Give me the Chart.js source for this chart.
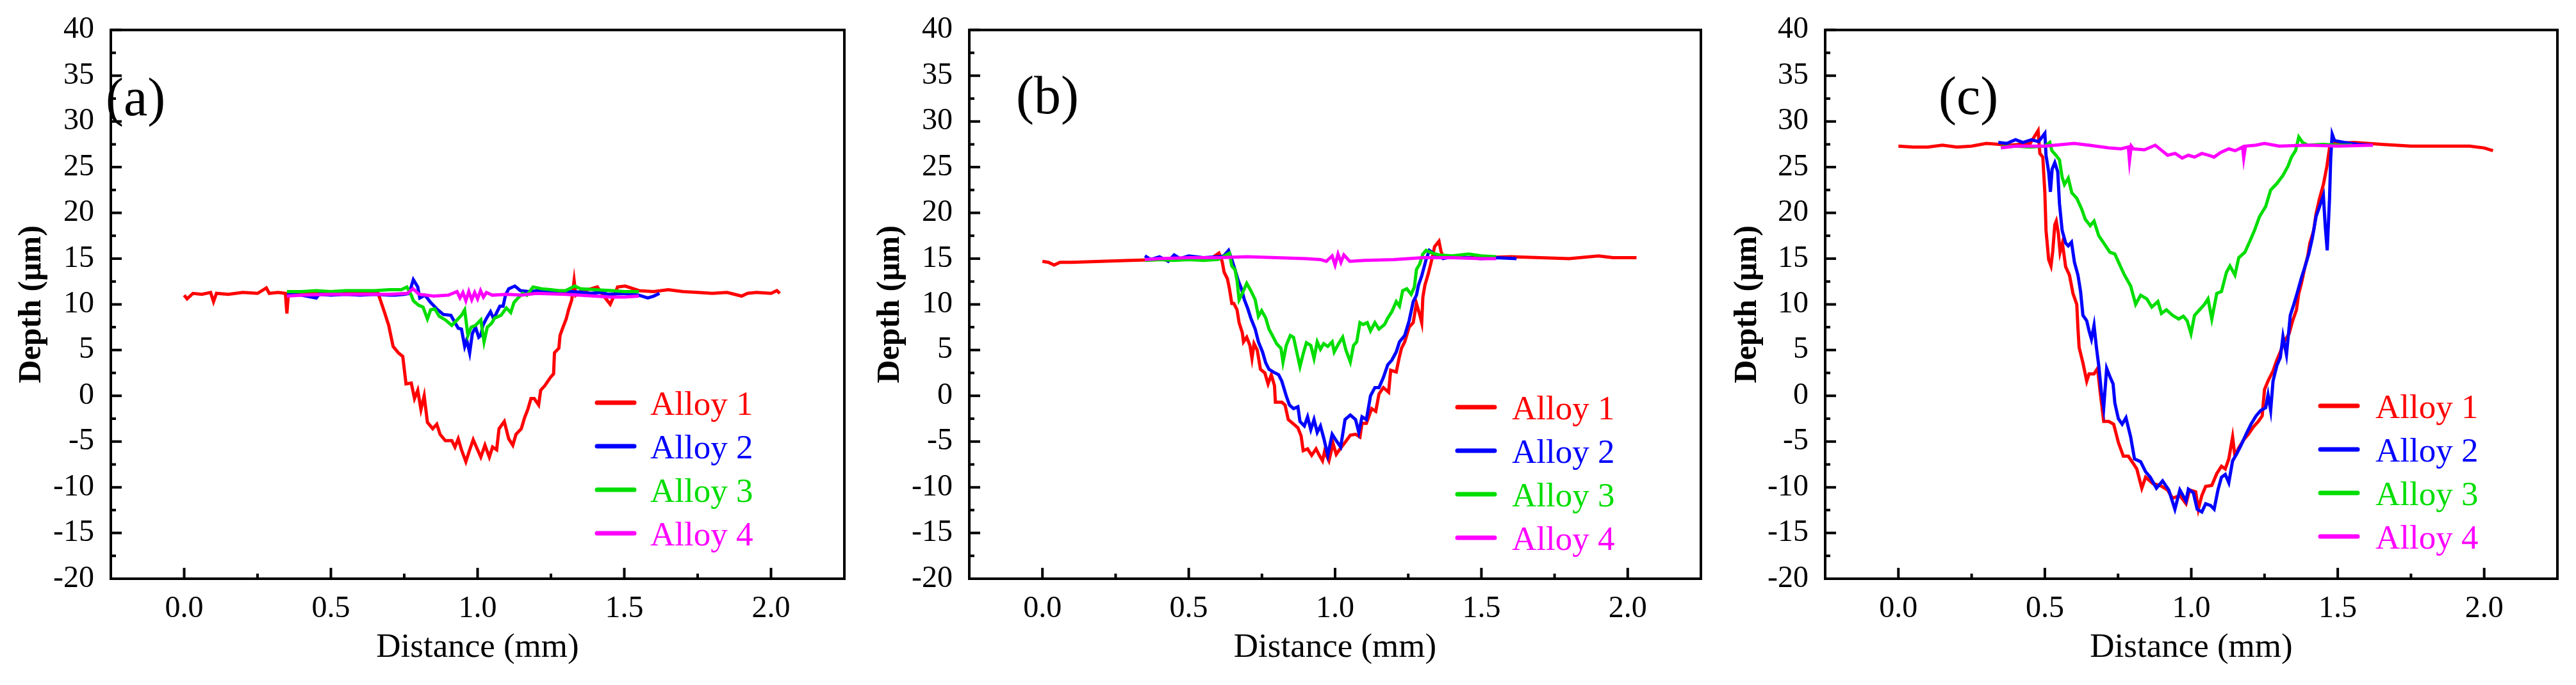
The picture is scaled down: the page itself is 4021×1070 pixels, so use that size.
<!DOCTYPE html>
<html>
<head>
<meta charset="utf-8">
<script src="https://cdn.jsdelivr.net/npm/chart.js@4.4.0/dist/chart.umd.min.js"></script>
<style>
  html, body { margin: 0; padding: 0; background: #fff; }
  #wrap { display: flex; width: 4021px; height: 1070px; }
  canvas { display: block; }
</style>
</head>
<body>
<div id="wrap">
  <canvas id="panel-a" width="1340" height="1070"></canvas>
  <canvas id="panel-b" width="1340" height="1070"></canvas>
  <canvas id="panel-c" width="1341" height="1070"></canvas>
</div>
<script>
/* Series names, colours and axis ticks */
const alloyNames = ['Alloy 1', 'Alloy 2', 'Alloy 3', 'Alloy 4'];
const alloyColors = ['#ff0000', '#0000ff', '#00dd00', '#ff00ff'];
const xTickValues = [0.0, 0.5, 1.0, 1.5, 2.0];
const yTickValues = [-20, -15, -10, -5, 0, 5, 10, 15, 20, 25, 30, 35, 40];

/* Panel (a) */
const aDist1 = [0.00, 0.01, 0.03, 0.06, 0.09, 0.10, 0.11, 0.15, 0.20, 0.25,
  0.28, 0.29, 0.32, 0.345, 0.35, 0.355, 0.40, 0.45, 0.50, 0.55,
  0.60, 0.64, 0.661, 0.683, 0.697, 0.712, 0.730, 0.745, 0.756, 0.774,
  0.785, 0.796, 0.807, 0.818, 0.829, 0.847, 0.861, 0.872, 0.890, 0.912,
  0.923, 0.934, 0.945, 0.960, 0.971, 0.985, 1.000, 1.011, 1.025, 1.040,
  1.051, 1.065, 1.073, 1.091, 1.106, 1.120, 1.131, 1.149, 1.160, 1.171,
  1.182, 1.193, 1.208, 1.215, 1.229, 1.248, 1.259, 1.262, 1.277, 1.281,
  1.291, 1.302, 1.310, 1.321, 1.329, 1.335, 1.350, 1.386, 1.408, 1.423,
  1.452, 1.466, 1.477, 1.503, 1.55, 1.60, 1.65, 1.70, 1.75, 1.80,
  1.85, 1.90, 1.92, 1.95, 2.00, 2.02, 2.03];
const aDepth1 = [11.0, 10.6, 11.2, 11.1, 11.3, 10.3, 11.2, 11.1, 11.3, 11.2,
  11.8, 11.2, 11.3, 11.2, 9.0, 11.1, 11.2, 11.3, 11.2, 11.3,
  11.3, 11.2, 11.2, 9.1, 7.7, 5.4, 4.7, 4.3, 1.3, 1.4,
  -0.3, 0.6, -1.5, 0.0, -2.9, -3.6, -3.1, -4.2, -4.9, -4.9,
  -5.6, -4.7, -5.9, -7.2, -6.1, -4.8, -5.9, -6.7, -5.4, -6.7,
  -5.6, -5.9, -3.6, -2.8, -4.7, -5.4, -4.2, -3.6, -2.4, -1.5,
  -0.3, -0.3, -1.0, 0.6, 1.1, 2.0, 2.4, 4.7, 5.2, 6.6,
  7.5, 8.4, 9.4, 10.5, 12.6, 11.0, 11.4, 11.7, 11.9, 11.2,
  10.0, 11.0, 11.9, 12.0, 11.5, 11.4, 11.6, 11.4, 11.3, 11.2,
  11.3, 10.9, 11.2, 11.3, 11.2, 11.5, 11.2];

const aDist2 = [0.35, 0.40, 0.45, 0.46, 0.50, 0.55, 0.60, 0.65, 0.70, 0.72,
  0.75, 0.767, 0.781, 0.796, 0.803, 0.821, 0.840, 0.861, 0.883, 0.909,
  0.923, 0.934, 0.945, 0.956, 0.963, 0.973, 0.982, 0.993, 1.004, 1.011,
  1.018, 1.029, 1.044, 1.055, 1.065, 1.076, 1.087, 1.095, 1.106, 1.127,
  1.146, 1.175, 1.21, 1.24, 1.28, 1.321, 1.36, 1.386, 1.42, 1.445,
  1.50, 1.55, 1.58, 1.60, 1.62];
const aDepth2 = [11.1, 11.0, 10.7, 11.1, 11.0, 11.1, 11.0, 11.1, 11.0, 11.0,
  11.1, 11.2, 12.7, 11.9, 10.7, 11.0, 10.2, 9.5, 8.9, 8.8,
  8.0, 7.4, 7.3, 5.4, 6.1, 4.7, 6.8, 7.5, 6.4, 6.6,
  7.7, 8.4, 9.2, 8.4, 9.1, 9.8, 9.8, 11.0, 11.7, 12.0,
  11.5, 11.4, 11.5, 11.4, 11.3, 11.4, 11.3, 11.2, 11.3, 11.1,
  11.2, 11.0, 10.7, 10.9, 11.2];

const aDist3 = [0.35, 0.40, 0.45, 0.50, 0.55, 0.60, 0.65, 0.70, 0.74, 0.759,
  0.774, 0.781, 0.799, 0.814, 0.829, 0.840, 0.854, 0.869, 0.890, 0.912,
  0.930, 0.945, 0.956, 0.967, 0.978, 0.993, 1.011, 1.022, 1.033, 1.047,
  1.058, 1.080, 1.098, 1.113, 1.124, 1.138, 1.153, 1.168, 1.189, 1.219,
  1.25, 1.277, 1.30, 1.331, 1.350, 1.40, 1.459, 1.50, 1.55];
const aDepth3 = [11.4, 11.4, 11.5, 11.4, 11.5, 11.5, 11.5, 11.6, 11.6, 11.9,
  11.0, 10.4, 9.9, 9.7, 8.4, 9.4, 9.5, 8.7, 8.3, 7.7,
  8.3, 8.8, 9.4, 6.6, 7.5, 7.7, 8.3, 5.9, 7.5, 7.9,
  8.5, 8.8, 9.6, 9.1, 10.2, 10.7, 11.2, 11.0, 11.9, 11.7,
  11.6, 11.5, 11.5, 12.0, 11.7, 11.6, 11.5, 11.4, 11.4];

const aDist4 = [0.35, 0.40, 0.50, 0.60, 0.70, 0.76, 0.78, 0.80, 0.85, 0.90,
  0.93, 0.94, 0.95, 0.96, 0.97, 0.98, 0.99, 1.00, 1.01, 1.02,
  1.03, 1.05, 1.10, 1.15, 1.20, 1.30, 1.40, 1.45, 1.50, 1.55];
const aDepth4 = [10.9, 11.0, 11.1, 11.1, 11.1, 11.2, 11.7, 11.1, 10.9, 11.0,
  11.4, 10.7, 11.3, 10.4, 11.4, 10.5, 11.3, 10.6, 11.5, 10.8,
  11.3, 11.0, 11.1, 11.0, 11.2, 11.1, 10.9, 10.8, 10.8, 10.9];

/* Panel (b) */
const bDist1 = [0.00, 0.02, 0.04, 0.06, 0.10, 0.20, 0.30, 0.40, 0.50, 0.58,
  0.603, 0.614, 0.621, 0.632, 0.639, 0.647, 0.654, 0.665, 0.672, 0.683,
  0.687, 0.698, 0.709, 0.716, 0.723, 0.734, 0.745, 0.760, 0.771, 0.782,
  0.793, 0.796, 0.818, 0.829, 0.840, 0.855, 0.873, 0.884, 0.891, 0.906,
  0.920, 0.935, 0.946, 0.957, 0.964, 0.979, 0.993, 1.004, 1.015, 1.034,
  1.052, 1.070, 1.085, 1.092, 1.107, 1.125, 1.139, 1.150, 1.165, 1.183,
  1.190, 1.209, 1.220, 1.227, 1.238, 1.253, 1.267, 1.278, 1.289, 1.296,
  1.300, 1.307, 1.318, 1.329, 1.340, 1.355, 1.362, 1.369, 1.40, 1.50,
  1.60, 1.70, 1.80, 1.90, 1.95, 2.03];
const bDepth1 = [14.7, 14.6, 14.3, 14.6, 14.6, 14.7, 14.8, 14.9, 15.0, 15.1,
  15.6, 14.7, 13.5, 12.8, 11.7, 10.1, 10.1, 9.4, 8.0, 6.9,
  5.9, 6.4, 5.5, 4.1, 5.7, 5.0, 2.9, 2.5, 1.3, 2.3,
  1.1, -0.7, -0.7, -1.0, -2.6, -3.0, -3.5, -4.4, -6.0, -5.8,
  -6.5, -5.8, -6.5, -7.1, -6.1, -7.1, -5.2, -6.4, -5.9, -5.1,
  -4.3, -4.2, -4.5, -3.0, -3.0, -1.4, -1.7, 0.2, 0.9, 0.4,
  2.8, 2.6, 4.3, 5.2, 5.9, 7.5, 8.0, 10.1, 8.9, 8.0,
  10.8, 12.1, 13.3, 14.7, 16.3, 16.9, 15.8, 15.2, 15.1, 15.1,
  15.2, 15.1, 15.0, 15.3, 15.1, 15.1];

const bDist2 = [0.35, 0.37, 0.40, 0.43, 0.45, 0.47, 0.50, 0.55, 0.60, 0.62,
  0.636, 0.647, 0.658, 0.669, 0.680, 0.690, 0.701, 0.712, 0.727, 0.738,
  0.752, 0.763, 0.774, 0.789, 0.807, 0.818, 0.833, 0.844, 0.858, 0.873,
  0.880, 0.895, 0.906, 0.917, 0.928, 0.939, 0.950, 0.961, 0.975, 0.990,
  1.004, 1.019, 1.034, 1.052, 1.070, 1.081, 1.092, 1.107, 1.121, 1.136,
  1.150, 1.165, 1.180, 1.194, 1.209, 1.220, 1.238, 1.253, 1.267, 1.278,
  1.285, 1.296, 1.311, 1.322, 1.340, 1.369, 1.40, 1.45, 1.50, 1.55,
  1.62];
const bDepth2 = [15.3, 14.9, 15.2, 14.7, 15.4, 15.0, 15.3, 15.1, 15.2, 15.3,
  15.9, 14.9, 13.8, 12.6, 11.7, 10.5, 9.6, 8.5, 7.3, 5.9,
  4.8, 3.6, 2.9, 2.6, 2.3, 1.6, 0.0, -1.0, -1.4, -1.2,
  -2.8, -3.3, -2.3, -3.7, -2.6, -4.0, -3.3, -4.6, -6.5, -4.2,
  -4.9, -5.6, -2.6, -2.1, -2.6, -4.0, -2.3, -2.6, 0.0, 0.9,
  0.9, 2.0, 3.4, 3.9, 4.8, 5.9, 6.6, 8.2, 10.3, 11.0,
  12.1, 13.1, 14.9, 15.9, 15.5, 15.0, 15.2, 15.1, 15.0, 15.1,
  15.0];

const bDist3 = [0.35, 0.40, 0.45, 0.50, 0.55, 0.60, 0.639, 0.647, 0.658, 0.665,
  0.672, 0.683, 0.698, 0.712, 0.727, 0.738, 0.749, 0.763, 0.774, 0.789,
  0.800, 0.815, 0.822, 0.833, 0.847, 0.858, 0.869, 0.880, 0.891, 0.902,
  0.917, 0.928, 0.939, 0.950, 0.961, 0.975, 0.990, 0.997, 1.012, 1.026,
  1.037, 1.052, 1.063, 1.074, 1.085, 1.096, 1.110, 1.121, 1.136, 1.150,
  1.169, 1.180, 1.194, 1.209, 1.220, 1.231, 1.245, 1.260, 1.271, 1.278,
  1.289, 1.300, 1.311, 1.333, 1.355, 1.40, 1.457, 1.50, 1.55];
const bDepth3 = [14.8, 14.9, 14.8, 14.9, 14.8, 14.9, 15.6, 14.2, 13.8, 12.6,
  10.5, 11.2, 12.3, 11.5, 10.5, 8.7, 9.3, 8.5, 7.3, 6.4,
  5.7, 5.2, 3.7, 5.5, 6.6, 6.4, 4.8, 3.2, 4.6, 5.8,
  5.5, 4.1, 5.9, 5.1, 5.7, 5.4, 5.9, 4.8, 5.7, 6.4,
  5.0, 3.7, 5.5, 5.9, 8.0, 7.8, 8.0, 7.1, 8.0, 7.3,
  7.8, 8.5, 9.2, 10.3, 9.8, 11.5, 11.7, 11.1, 11.9, 13.8,
  14.4, 15.5, 15.9, 15.6, 15.4, 15.3, 15.5, 15.3, 15.2];

const bDist4 = [0.35, 0.40, 0.50, 0.60, 0.70, 0.80, 0.90, 0.95, 0.97, 0.99,
  1.00, 1.01, 1.02, 1.03, 1.05, 1.10, 1.20, 1.30, 1.40, 1.50, 1.55];
const bDepth4 = [14.9, 15.0, 15.1, 15.1, 15.2, 15.1, 15.0, 14.9, 14.7, 15.3,
  14.3, 15.5, 14.6, 15.4, 14.7, 14.8, 14.9, 15.1, 15.1, 15.0, 15.0];

/* Panel (c) */
const cDist1 = [0.00, 0.05, 0.10, 0.15, 0.20, 0.25, 0.30, 0.383, 0.450, 0.477,
  0.483, 0.493, 0.500, 0.504, 0.513, 0.521, 0.527, 0.534, 0.539, 0.546,
  0.552, 0.560, 0.571, 0.584, 0.596, 0.609, 0.613, 0.617, 0.630, 0.643,
  0.651, 0.668, 0.680, 0.689, 0.701, 0.718, 0.735, 0.751, 0.768, 0.785,
  0.802, 0.814, 0.831, 0.844, 0.869, 0.894, 0.919, 0.936, 0.961, 0.982,
  0.994, 1.015, 1.024, 1.036, 1.049, 1.070, 1.087, 1.103, 1.116, 1.128,
  1.141, 1.149, 1.162, 1.179, 1.195, 1.212, 1.229, 1.242, 1.250, 1.263,
  1.279, 1.292, 1.304, 1.317, 1.334, 1.346, 1.359, 1.367, 1.376, 1.388,
  1.397, 1.405, 1.418, 1.426, 1.438, 1.451, 1.463, 1.472, 1.489, 1.556,
  1.65, 1.75, 1.85, 1.95, 2.00, 2.03];
const cDepth1 = [27.3, 27.2, 27.2, 27.4, 27.2, 27.3, 27.6, 27.4, 27.6, 29.0,
  26.5, 26.1, 22.2, 18.1, 14.9, 14.2, 15.8, 18.7, 19.1, 17.8,
  15.7, 16.7, 14.1, 13.2, 11.2, 10.0, 7.4, 5.3, 3.6, 1.6,
  2.4, 2.4, 3.0, 0.4, -2.8, -2.8, -3.1, -5.1, -6.6, -6.6,
  -7.4, -8.0, -10.1, -8.9, -9.6, -9.8, -10.3, -11.2, -10.9, -11.8,
  -10.3, -10.5, -12.4, -10.9, -9.9, -9.8, -8.5, -7.7, -8.0, -6.9,
  -4.5, -6.6, -5.7, -4.8, -4.2, -3.4, -2.8, -2.2, 0.7, 1.7,
  2.7, 3.9, 4.8, 5.9, 6.8, 8.2, 9.4, 11.2, 12.3, 14.1,
  15.2, 16.7, 18.1, 19.9, 21.6, 23.1, 25.1, 27.1, 27.6, 27.7,
  27.5, 27.3, 27.3, 27.3, 27.1, 26.8];

const cDist2 = [0.341, 0.37, 0.40, 0.425, 0.454, 0.479, 0.500, 0.504, 0.513, 0.519,
  0.525, 0.534, 0.544, 0.550, 0.559, 0.571, 0.580, 0.591, 0.601, 0.613,
  0.622, 0.630, 0.643, 0.651, 0.659, 0.668, 0.676, 0.684, 0.693, 0.701,
  0.711, 0.722, 0.733, 0.739, 0.751, 0.764, 0.777, 0.793, 0.806, 0.827,
  0.844, 0.860, 0.881, 0.902, 0.923, 0.944, 0.961, 0.982, 0.990, 1.007,
  1.020, 1.036, 1.049, 1.066, 1.078, 1.091, 1.103, 1.116, 1.128, 1.141,
  1.154, 1.170, 1.187, 1.204, 1.221, 1.237, 1.254, 1.262, 1.271, 1.279,
  1.292, 1.304, 1.313, 1.325, 1.338, 1.350, 1.363, 1.376, 1.388, 1.401,
  1.413, 1.426, 1.438, 1.451, 1.457, 1.464, 1.472, 1.476, 1.481, 1.489,
  1.522, 1.57, 1.62];
const cDepth2 = [27.7, 27.6, 28.0, 27.7, 28.0, 27.8, 28.7, 26.3, 24.5, 22.3,
  24.8, 25.5, 24.5, 21.0, 18.1, 16.7, 16.4, 16.8, 14.6, 13.2,
  11.4, 8.8, 8.2, 7.1, 6.2, 7.7, 5.3, 3.3, 0.4, -1.3,
  3.0, 2.1, 1.3, -0.8, -2.5, -3.1, -2.4, -4.5, -6.9, -7.2,
  -8.3, -8.9, -10.1, -9.3, -10.3, -12.4, -10.3, -11.5, -10.2, -10.6,
  -12.4, -12.7, -11.8, -12.0, -12.4, -10.3, -8.9, -8.6, -9.5, -7.1,
  -6.4, -5.4, -4.2, -3.1, -2.2, -1.6, -1.3, 0.1, -1.6, 1.6,
  3.3, 4.2, 6.5, 4.5, 8.8, 10.0, 11.4, 12.9, 14.1, 15.5,
  17.2, 19.6, 20.7, 21.9, 18.7, 15.9, 21.6, 26.0, 28.6, 27.9,
  27.7, 27.5, 27.4];

const cDist3 = [0.35, 0.40, 0.45, 0.50, 0.517, 0.524, 0.538, 0.550, 0.559, 0.567,
  0.580, 0.592, 0.609, 0.626, 0.638, 0.655, 0.668, 0.684, 0.701, 0.722,
  0.739, 0.756, 0.772, 0.793, 0.810, 0.827, 0.848, 0.865, 0.886, 0.898,
  0.915, 0.936, 0.957, 0.973, 0.986, 0.999, 1.011, 1.028, 1.045, 1.057,
  1.070, 1.087, 1.103, 1.120, 1.132, 1.149, 1.162, 1.183, 1.200, 1.216,
  1.233, 1.254, 1.271, 1.292, 1.313, 1.330, 1.342, 1.356, 1.367, 1.380,
  1.397, 1.45, 1.50, 1.55];
const cDepth3 = [27.2, 27.3, 27.2, 27.3, 27.7, 26.8, 26.3, 25.8, 23.9, 23.1,
  23.8, 22.2, 21.6, 20.4, 19.3, 18.6, 19.1, 17.5, 16.7, 15.7,
  15.5, 14.3, 13.2, 12.0, 10.0, 11.0, 10.6, 9.7, 10.3, 9.0,
  9.4, 8.8, 8.4, 8.7, 8.2, 6.8, 8.8, 9.4, 10.0, 10.6,
  8.4, 11.2, 11.4, 13.5, 14.2, 13.2, 15.1, 15.7, 16.9, 18.1,
  19.6, 20.7, 22.5, 23.2, 24.1, 25.1, 26.1, 26.8, 28.3, 27.7,
  27.4, 27.5, 27.4, 27.4];

const cDist4 = [0.35, 0.40, 0.50, 0.60, 0.65, 0.718, 0.76, 0.785, 0.789, 0.795,
  0.802, 0.84, 0.877, 0.90, 0.919, 0.945, 0.969, 0.99, 1.011, 1.036,
  1.06, 1.078, 1.10, 1.128, 1.15, 1.175, 1.179, 1.185, 1.221, 1.25,
  1.30, 1.40, 1.50, 1.62];
const cDepth4 = [27.1, 27.3, 27.3, 27.6, 27.4, 27.1, 27.0, 27.2, 25.7, 27.3,
  27.0, 26.9, 27.4, 26.8, 26.3, 26.5, 26.0, 26.3, 26.1, 26.5,
  26.3, 26.1, 26.6, 27.0, 26.8, 27.2, 26.0, 27.3, 27.4, 27.6,
  27.3, 27.4, 27.3, 27.4];

Chart.defaults.font.family = "'Liberation Serif', 'Times New Roman', serif";
Chart.defaults.color = '#000';

const PLOT_TOP = 40;
const PLOT_BOTTOM = 904;
const CANVAS_BOTTOM = 1044;

/**
 * @description frame, inward ticks, legend and panel letter
 */
const decorPlugin = {
  id: 'decor',
  afterDraw(chart, args, opts) {
    const ctx = chart.ctx;
    const a = chart.chartArea;
    const xs = chart.scales.x, ys = chart.scales.y;
    ctx.save();
    ctx.strokeStyle = '#000';
    ctx.lineWidth = 4;
    ctx.lineCap = 'butt';
    ctx.strokeRect(a.left, a.top, a.right - a.left, a.bottom - a.top);

    // major + minor ticks pointing inside
    ctx.beginPath();
    for (let i = 0; i < yTickValues.length; i++) {
      const py = ys.getPixelForValue(yTickValues[i]);
      ctx.moveTo(a.left, py); ctx.lineTo(a.left + 17, py);
      if (i < yTickValues.length - 1) {
        const my = ys.getPixelForValue((yTickValues[i] + yTickValues[i + 1]) / 2);
        ctx.moveTo(a.left, my); ctx.lineTo(a.left + 8, my);
      }
    }
    for (let i = 0; i < xTickValues.length; i++) {
      const px = xs.getPixelForValue(xTickValues[i]);
      ctx.moveTo(px, a.bottom); ctx.lineTo(px, a.bottom - 17);
      if (i < xTickValues.length - 1) {
        const mx = xs.getPixelForValue((xTickValues[i] + xTickValues[i + 1]) / 2);
        ctx.moveTo(mx, a.bottom); ctx.lineTo(mx, a.bottom - 8);
      }
    }
    ctx.stroke();

    // legend inside the plot
    ctx.font = "53px 'Liberation Serif'";
    ctx.textBaseline = 'alphabetic';
    ctx.textAlign = 'left';
    chart.data.datasets.forEach((ds, i) => {
      const ly = opts.legendY + i * 68;
      ctx.strokeStyle = ds.borderColor;
      ctx.lineWidth = 7;
      ctx.lineCap = 'round';
      ctx.beginPath();
      ctx.moveTo(opts.legendX, ly);
      ctx.lineTo(opts.legendX + 58, ly);
      ctx.stroke();
      ctx.fillStyle = ds.borderColor;
      ctx.fillText(ds.label, opts.textX, ly + 19);
    });

    // panel letter
    ctx.fillStyle = '#000';
    ctx.font = "84px 'Liberation Serif'";
    ctx.fillText(opts.label, opts.labelX, opts.labelY);
    ctx.restore();
  }
};

function toPoints(xs, ys) {
  return xs.map((x, i) => ({x: x, y: ys[i]}));
}

function makePanel(id, dists, depths, box, decor) {
  const datasets = alloyNames.map((name, i) => ({
    label: name,
    data: toPoints(dists[i], depths[i]),
    borderColor: alloyColors[i],
    borderWidth: 5,
    pointRadius: 0,
    tension: 0,
    fill: false,
    order: alloyNames.length - i   // later alloys sit on top
  }));
  return new Chart(document.getElementById(id), {
    type: 'line',
    data: {datasets: datasets},
    options: {
      responsive: false,
      animation: false,
      devicePixelRatio: 1,
      layout: {padding: {left: box.padLeft, right: box.width - box.right, top: PLOT_TOP, bottom: 1070 - CANVAS_BOTTOM}},
      plugins: {
        legend: {display: false},
        tooltip: {enabled: false},
        decor: decor
      },
      scales: {
        x: {
          type: 'linear',
          min: -0.25,
          max: 2.25,
          grid: {display: false},
          border: {display: false},
          afterBuildTicks: s => { s.ticks = xTickValues.map(v => ({value: v})); },
          afterFit: s => { s.height = CANVAS_BOTTOM - PLOT_BOTTOM; },
          ticks: {
            padding: 11,
            font: {size: 48},
            maxRotation: 0,
            callback: v => v.toFixed(1)
          },
          title: {display: true, text: 'Distance (mm)', font: {size: 53}, padding: 0}
        },
        y: {
          type: 'linear',
          min: -20,
          max: 40,
          grid: {display: false},
          border: {display: false},
          afterBuildTicks: s => { s.ticks = yTickValues.map(v => ({value: v})); },
          afterFit: s => { s.width = box.left - box.padLeft; },
          ticks: {
            padding: 18,
            font: {size: 48},
            callback: v => String(v)
          },
          title: {display: true, text: 'Depth (μm)', font: {size: 50, weight: 'bold'}, padding: 0}
        }
      }
    },
    plugins: [decorPlugin]
  });
}

makePanel('panel-a',
  [aDist1, aDist2, aDist3, aDist4], [aDepth1, aDepth2, aDepth3, aDepth4],
  {width: 1340, left: 173, right: 1318, padLeft: 20},
  {label: '(a)', labelX: 165, labelY: 180, legendX: 932, textX: 1015, legendY: 629});

makePanel('panel-b',
  [bDist1, bDist2, bDist3, bDist4], [bDepth1, bDepth2, bDepth3, bDepth4],
  {width: 1340, left: 173, right: 1315, padLeft: 20},
  {label: '(b)', labelX: 246, labelY: 177, legendX: 935, textX: 1020, legendY: 636});

makePanel('panel-c',
  [cDist1, cDist2, cDist3, cDist4], [cDepth1, cDepth2, cDepth3, cDepth4],
  {width: 1341, left: 169, right: 1312, padLeft: 18},
  {label: '(c)', labelX: 346, labelY: 178, legendX: 942, textX: 1028, legendY: 634});
</script>
</body>
</html>
